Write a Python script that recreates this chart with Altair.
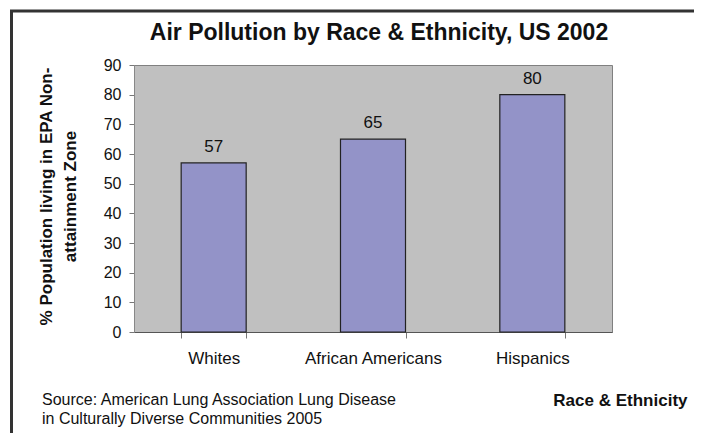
import altair as alt
import pandas as pd

CATEGORIES = ["Whites", "African Americans", "Hispanics"]
VALUES = [57, 65, 80]
Y_TICKS = [0, 10, 20, 30, 40, 50, 60, 70, 80, 90]
TITLE = "Air Pollution by Race & Ethnicity, US 2002"
Y_TITLE = ["% Population living in EPA Non-", "attainment Zone"]
X_TITLE = "Race & Ethnicity"
SOURCE = ["Source: American Lung Association Lung Disease",
          "in Culturally Diverse Communities 2005"]

df = pd.DataFrame({"Group": CATEGORIES, "Value": VALUES})
FONT = "Arial, Liberation Sans, sans-serif"
W, H = 478, 267

x_enc = alt.X(
    "Group:N", sort=CATEGORIES,
    scale=alt.Scale(paddingInner=0.592, paddingOuter=0.296),
    axis=alt.Axis(
        title=X_TITLE, labelAngle=0, labelFont=FONT, labelFontSize=17,
        labelColor="#111", labelPadding=12, tickBand="extent", tickSize=6,
        tickColor="#777", domainColor="#555", domainWidth=1.2,
        titleFont=FONT, titleFontSize=17, titleFontWeight="bold",
        titleColor="#111", titleX=553, titleY=73, titleAlign="right",
        titleBaseline="alphabetic",
    ),
)
y_enc = alt.Y(
    "Value:Q", scale=alt.Scale(domain=[0, 90], nice=False),
    axis=alt.Axis(
        values=Y_TICKS, grid=False, labelOverlap=False, labelFont=FONT,
        labelFontSize=16, labelColor="#111", labelPadding=8, tickSize=5,
        tickColor="#777", domainColor="#888", title=Y_TITLE, titleFont=FONT,
        titleFontSize=17, titleFontWeight="bold", titleColor="#111",
        titleAngle=270, titleX=-79, titleY=131, titleAlign="center",
        titleBaseline="bottom", titleLineHeight=24,
    ),
)

base = alt.Chart(df).encode(x=x_enc, y=y_enc)
bars = base.mark_bar(color="#9393C8", stroke="#222", strokeWidth=1.2)
labels = base.mark_text(
    baseline="alphabetic", dy=-11, font=FONT, fontSize=17, color="#111"
).encode(text="Value:Q")

one = alt.Data(values=[{"k": 0}])
frame_style = dict(color="#333", strokeWidth=3)
left = alt.Chart(one).mark_rule(**frame_style).encode(
    x=alt.value(-122.5), y=alt.value(-54), y2=alt.value(372))
right = alt.Chart(one).mark_rule(**frame_style).encode(
    x=alt.value(563.5), y=alt.value(-54), y2=alt.value(372))
top = alt.Chart(one).mark_rule(**frame_style).encode(
    x=alt.value(-124), x2=alt.value(565), y=alt.value(-54))

source = alt.Chart(one).mark_text(
    text=SOURCE, align="left", baseline="alphabetic", font=FONT, fontSize=16,
    lineHeight=18.5, color="#111"
).encode(x=alt.value(-92), y=alt.value(340))

chart = alt.layer(bars, labels, source, left, right, top).properties(
    width=W, height=H,
    view=alt.ViewBackground(fill="#C0C0C0", stroke="#808080", strokeWidth=1),
    title=alt.TitleParams(TITLE, font=FONT, fontSize=23, fontWeight="bold",
                          color="#111", anchor="middle", offset=-53.5, dx=6,
                          baseline="alphabetic"),
    autosize=alt.AutoSizeParams(type="none"),
    padding={"left": 126, "top": 57, "right": 82, "bottom": 101},
).configure(background="white")

chart.save("out.html", embed_options={"renderer": "svg", "actions": False})
